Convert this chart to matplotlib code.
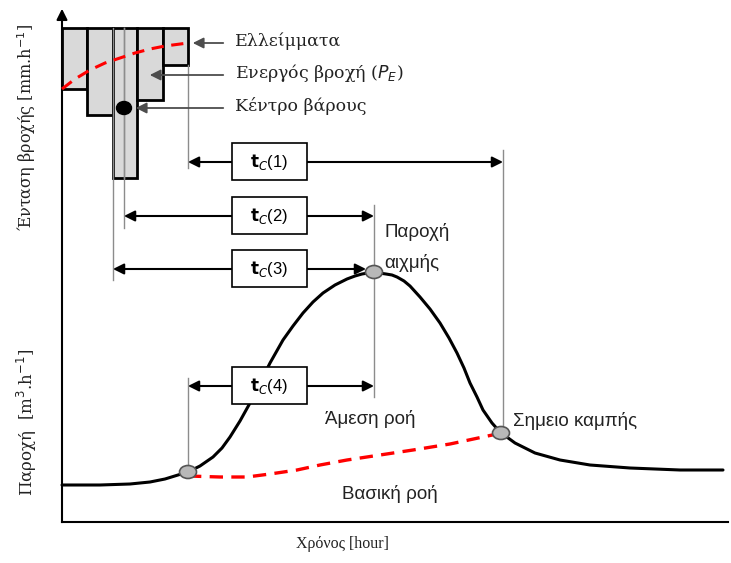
import numpy as np
import matplotlib
matplotlib.use("Agg")
import matplotlib.pyplot as plt
from matplotlib.patches import Rectangle, Ellipse

# schematic drawn in picture units (x to the right, y downwards)
bar_left = [62, 87, 113, 137, 163]
bar_width = [25, 26, 24, 26, 25]
bar_bottom = [89, 115, 178, 100, 65]
bar_top = 28

loss_x = [62, 75, 90, 105, 120, 135, 150, 165, 188]
loss_y = [89, 79, 70, 63, 58, 53, 49, 46, 43]

flow_x = [62, 100, 130, 150, 165, 178, 188, 200, 213, 222, 230, 240, 250, 260,
          270, 283, 293, 303, 313, 323, 335, 347, 355, 362, 368, 373, 379, 386,
          392, 397, 404, 410, 420, 430, 440, 449, 457, 464, 470, 477, 483, 492,
          500, 515, 535, 560, 590, 630, 680, 723]
flow_y = [485, 485, 484, 482, 479, 475, 472, 466, 457, 448, 437, 421, 403, 383,
          363, 340, 326, 313, 302, 293, 285, 279, 276, 274, 273, 273, 273, 274,
          275, 277, 281, 286, 297, 309, 323, 338, 353, 368, 383, 397, 410, 423,
          432, 443, 453, 460, 465, 468, 470, 470]

base_x = [188, 220, 247, 270, 297, 320, 347, 380, 413, 450, 497]
base_y = [476, 477, 477, 474, 470, 465, 460, 455, 450, 444, 434]

key_x = [188, 374, 501]
key_y = [472, 272, 433]

tc_labels = ["(1)", "(2)", "(3)", "(4)"]
tc_start = [188, 124, 113, 188]
tc_end = [503, 374, 366, 374]
tc_y = [162, 216, 269, 386]

guide_x = [113, 124, 188, 503, 374, 188]
guide_y0 = [28, 28, 65, 150, 205, 378]
guide_y1 = [280, 228, 168, 433, 397, 472]

pointer_text = ["Ελλείμματα", "Ενεργός βροχή ($P_E$)", "Κέντρο βάρους"]
pointer_tip = [190, 147, 133]
pointer_y = [43, 75, 108]

centroid = (124, 108)

fig = plt.figure(figsize=(7.31, 5.63), dpi=100)
ax = fig.add_axes([0, 0, 1, 1])
ax.set_xlim(0, 731)
ax.set_ylim(563, 0)
ax.axis("off")

serif = "DejaVu Serif"
sans = "Liberation Sans"
ink = "#222222"

# axes
ax.plot([62, 62], [16, 522], color="black", lw=1.5, zorder=5)
ax.plot([62, 728], [522, 522], color="black", lw=1.5, zorder=5)
ax.annotate("", xy=(62, 6), xytext=(62, 20),
            arrowprops=dict(arrowstyle="-|>", color="black", lw=1.5,
                            mutation_scale=16), zorder=5)

# guide lines
for gx, g0, g1 in zip(guide_x, guide_y0, guide_y1):
    ax.plot([gx, gx], [g0, g1], color="0.55", lw=1, zorder=4)

# rain bars
for l, w, b in zip(bar_left, bar_width, bar_bottom):
    ax.add_patch(Rectangle((l, bar_top), w, b - bar_top, facecolor="#d9d9d9",
                           edgecolor="black", lw=2, zorder=3))
ax.plot([124, 124], [28, 178], color="0.55", lw=1, zorder=4)
ax.plot(loss_x, loss_y, color="#ff0000", lw=2.2, ls=(0, (4, 2.5)), zorder=6)
ax.add_patch(Ellipse(centroid, 15, 13, facecolor="black", edgecolor="black",
                     zorder=7))

# pointers
for txt, tip, py in zip(pointer_text, pointer_tip, pointer_y):
    ax.annotate("", xy=(tip, py), xytext=(226, py),
                arrowprops=dict(arrowstyle="-|>", color="0.3", lw=1.3,
                                mutation_scale=16), zorder=8)
    ax.text(235, py - 2, txt, family=serif, fontsize=12.5, va="center",
            ha="left", color=ink)

# tc arrows and boxes
for lab, s, e, y in zip(tc_labels, tc_start, tc_end, tc_y):
    ax.annotate("", xy=(e, y), xytext=(s, y),
                arrowprops=dict(arrowstyle="<|-|>", color="black", lw=1.5,
                                mutation_scale=16, shrinkA=0, shrinkB=0),
                zorder=6)
    ax.add_patch(Rectangle((232, y - 19), 75, 37, facecolor="white",
                           edgecolor="black", lw=1.2, zorder=9))
    ax.text(269, y, r"$\mathbf{t}_{\mathit{C}}$" + lab, family=sans,
            fontsize=12, ha="center", va="center", zorder=10)

# hydrograph
ax.plot(flow_x, flow_y, color="black", lw=2.2, zorder=5,
        solid_capstyle="round", solid_joinstyle="round")
ax.plot(base_x, base_y, color="#ff0000", lw=2.4, ls=(0, (4, 2.5)), zorder=4)
for kx, ky in zip(key_x, key_y):
    ax.add_patch(Ellipse((kx, ky), 17, 13, facecolor="#b8b8b8",
                         edgecolor="#555555", lw=1.2, zorder=7))

# annotations
ax.text(384, 232, "Παροχή", family=sans, fontsize=13.5, va="center", color=ink)
ax.text(384, 263, "αιχμής", family=sans, fontsize=13.5, va="center", color=ink)
ax.text(325, 419, "Άμεση ροή", family=sans, fontsize=13.5, va="center", color=ink)
ax.text(390, 494, "Βασική ροή", family=sans, fontsize=13.5, va="center",
        ha="center", color=ink)
ax.text(513, 421, "Σημειο καμπής", family=sans, fontsize=13.5, va="center",
        color=ink)

ax.text(343, 544, "Χρόνος [hour]", family="Liberation Serif", fontsize=11.5,
        ha="center", va="center", color=ink)
ax.text(27, 128, "Ένταση βροχής [mm.h$^{-1}$]", family=serif, fontsize=11.5,
        rotation=90, ha="center", va="center", color=ink)
ax.text(27, 422, "Παροχή  [m$^{3}$.h$^{-1}$]", family=serif, fontsize=12,
        rotation=90, ha="center", va="center", color=ink)

fig.savefig("out.png", dpi=100)
